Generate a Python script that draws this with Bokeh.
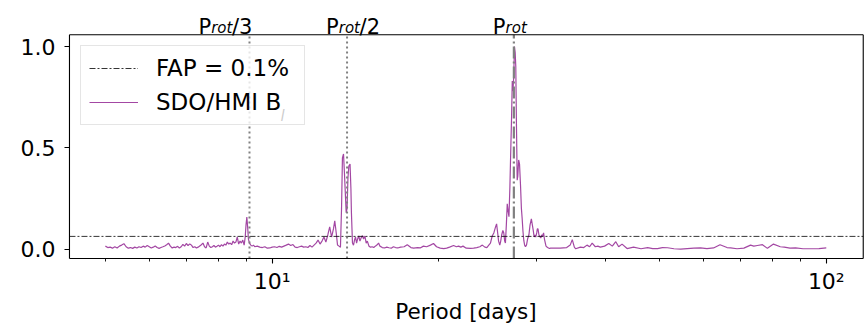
from bokeh.plotting import figure
from bokeh.models import (Range1d, FixedTicker, PrintfTickFormatter, Label,
                          Legend, LegendItem)
from bokeh.embed import file_html
from bokeh.resources import INLINE

# ---------------- data ----------------
period_a = [5.00, 5.05, 5.10, 5.15, 5.20, 5.25, 5.30, 5.35, 5.40, 5.45,
            5.50, 5.55, 5.60, 5.65, 5.70, 5.75, 5.80, 5.85, 5.90, 5.95,
            6.00, 6.05, 6.10, 6.15, 6.20, 6.25, 6.30, 6.35, 6.40, 6.45,
            6.50, 6.55, 6.60, 6.65, 6.70, 6.75, 6.80, 6.85, 6.90, 6.95,
            7.00, 7.05, 7.10, 7.15, 7.20, 7.25, 7.30, 7.35, 7.40, 7.45,
            7.50, 7.55, 7.60, 7.65, 7.70, 7.75, 7.80, 7.85, 7.90, 7.95,
            8.00, 8.05, 8.10, 8.15, 8.20, 8.25, 8.30, 8.35, 8.40, 8.45,
            8.50, 8.55, 8.60, 8.65, 8.70, 8.75, 8.80, 8.85, 8.90, 8.94,
            8.97, 9.00, 9.03, 9.06]
power_a = [0.015, 0.008, 0.010, 0.005, 0.012, 0.006, 0.015, 0.020, 0.027, 0.012,
           0.005, 0.008, 0.004, 0.010, 0.006, 0.012, 0.008, 0.015, 0.010, 0.018,
           0.012, 0.006, 0.010, 0.016, 0.008, 0.004, 0.008, 0.012, 0.016, 0.022,
           0.030, 0.015, 0.006, 0.010, 0.008, 0.014, 0.006, 0.012, 0.024, 0.015,
           0.028, 0.018, 0.026, 0.020, 0.008, 0.012, 0.006, 0.010, 0.016, 0.022,
           0.030, 0.012, 0.006, 0.035, 0.015, 0.008, 0.012, 0.018, 0.010, 0.014,
           0.020, 0.012, 0.022, 0.015, 0.025, 0.020, 0.035, 0.025, 0.030, 0.022,
           0.040, 0.030, 0.035, 0.060, 0.025, 0.040, 0.030, 0.045, 0.020, 0.060,
           0.120, 0.158, 0.110, 0.050]

period_b = [9.10, 9.15, 9.20, 9.25, 9.30, 9.40, 9.50, 9.60, 9.70, 9.80,
            9.90, 10.0, 10.1, 10.2, 10.3, 10.4, 10.5, 10.6, 10.7, 10.8,
            10.9, 11.0, 11.1, 11.2, 11.3, 11.4, 11.5, 11.6, 11.7, 11.8,
            11.9, 12.0, 12.1, 12.2, 12.3, 12.4, 12.5, 12.6, 12.7, 12.8,
            12.9, 12.97, 13.05, 13.12, 13.2, 13.28, 13.34, 13.39, 13.45, 13.5,
            13.54, 13.6, 13.65, 13.7, 13.75, 13.82, 13.87, 13.9, 13.96, 14.02,
            14.08, 14.14, 14.2, 14.26, 14.33, 14.4, 14.47, 14.55, 14.62, 14.7,
            14.78, 14.85, 14.95, 15.05, 15.15, 15.25, 15.35, 15.45, 15.56, 15.65,
            15.8, 15.95, 16.1, 16.25, 16.4, 16.55, 16.7, 16.85]
power_b = [0.030, 0.020, 0.015, 0.020, 0.012, 0.015, 0.010, 0.008, 0.012, 0.005,
           0.006, 0.010, 0.012, 0.008, 0.014, 0.010, 0.015, 0.020, 0.025, 0.018,
           0.023, 0.010, 0.008, 0.012, 0.015, 0.010, 0.012, 0.008, 0.018, 0.010,
           0.020, 0.030, 0.045, 0.025, 0.040, 0.060, 0.035, 0.070, 0.110, 0.060,
           0.100, 0.140, 0.080, 0.020, 0.015, 0.010, 0.200, 0.450, 0.470, 0.380,
           0.300, 0.180, 0.200, 0.350, 0.410, 0.420, 0.300, 0.180, 0.030, 0.020,
           0.045, 0.060, 0.030, 0.050, 0.065, 0.040, 0.055, 0.067, 0.050, 0.065,
           0.030, 0.040, 0.015, 0.010, 0.012, 0.008, 0.015, 0.020, 0.030, 0.015,
           0.008, 0.006, 0.010, 0.007, 0.005, 0.012, 0.008, 0.006]

period_c = [17.05, 17.3, 17.53, 17.8, 18.0, 18.3, 18.5, 18.75, 19.0, 19.3,
            19.55, 19.8, 20.1, 20.4, 20.65, 20.9, 21.25, 21.5, 21.7, 21.9,
            22.1, 22.4, 22.8, 23.1, 23.4, 23.7, 23.95, 24.2, 24.4, 24.6,
            24.77, 24.95]
power_c = [0.010, 0.012, 0.022, 0.008, 0.005, 0.008, 0.006, 0.015, 0.012, 0.020,
           0.028, 0.012, 0.005, 0.003, 0.005, 0.010, 0.018, 0.012, 0.015, 0.010,
           0.015, 0.005, 0.004, 0.005, 0.008, 0.012, 0.020, 0.010, 0.008, 0.020,
           0.030, 0.065]

period_d = [25.12, 25.3, 25.41, 25.55, 25.62, 25.75, 25.85, 25.95, 26.08, 26.18,
            26.28, 26.36, 26.46, 26.56, 26.65, 26.75, 26.85, 26.93, 27.04, 27.12,
            27.2, 27.28, 27.37, 27.45, 27.52, 27.6, 27.68, 27.75, 27.85, 27.95,
            28.07, 28.17, 28.26, 28.35, 28.45, 28.55, 28.65, 28.77, 28.9, 29.06,
            29.2, 29.36, 29.48, 29.6, 29.7, 29.77, 29.9, 30.02, 30.1, 30.18,
            30.3, 30.44, 30.53, 30.65, 30.76, 30.89, 31.0, 31.2, 31.4, 31.66]
power_d = [0.080, 0.110, 0.125, 0.070, 0.040, 0.020, 0.040, 0.070, 0.092, 0.080,
           0.040, 0.030, 0.120, 0.224, 0.190, 0.160, 0.300, 0.450, 0.650, 0.830,
           0.780, 0.850, 1.000, 0.970, 0.900, 0.600, 0.340, 0.360, 0.440, 0.420,
           0.310, 0.200, 0.150, 0.090, 0.043, 0.020, 0.012, 0.020, 0.050, 0.070,
           0.120, 0.150, 0.120, 0.090, 0.060, 0.070, 0.060, 0.080, 0.100, 0.100,
           0.070, 0.060, 0.055, 0.070, 0.065, 0.080, 0.050, 0.015, 0.008, 0.003]

period_e = [31.8, 33.1, 34.0, 34.5, 34.8, 35.1, 35.3, 36.0, 36.5, 37.0,
            37.4, 37.8, 38.3, 38.7, 39.1, 39.8, 40.5, 41.1, 41.7, 42.2,
            42.8, 43.7, 44.9, 46.3, 47.6, 48.6, 49.6, 50.6, 51.7, 53.1,
            54.6, 56.1, 57.7, 59.3, 60.9, 62.6, 64.3, 66.2, 67.2, 69.0,
            71.0, 73.0, 74.0, 75.1, 76.7, 78.3, 80.3, 82.6, 84.0, 86.0,
            88.0, 90.8, 94.9, 97.0, 100.0]
power_e = [0.005, 0.005, 0.008, 0.020, 0.047, 0.010, 0.002, 0.010, 0.008, 0.020,
           0.012, 0.030, 0.012, 0.015, 0.010, 0.015, 0.028, 0.015, 0.037, 0.012,
           0.025, 0.003, 0.010, 0.002, 0.008, 0.003, 0.003, 0.008, 0.007, 0.002,
           0.000, 0.003, 0.005, 0.006, 0.003, 0.006, 0.022, 0.008, 0.006, 0.002,
           0.005, 0.020, 0.015, 0.018, 0.022, 0.004, 0.025, 0.012, 0.010, 0.005,
           0.006, 0.002, 0.002, 0.003, 0.006]

period = period_a + period_b + period_c + period_d + period_e
power = power_a + power_b + power_c + power_d + power_e

p_rot = 27.3            # rotation period [days]
fap_level = 0.063       # FAP = 0.1 % level
x_major = [10, 100]
x_minor = [5, 6, 7, 8, 9, 20, 30, 40, 50, 60, 70, 80, 90]
x_tick_labels = {10: "10¹", 100: "10²"}
y_major = [0.0, 0.5, 1.0]

FONT = "DejaVu Sans"

# axes box (matplotlib-like spines) limits
X_LO, X_HI = 4.307, 116.6
Y_LO, Y_HI = -0.046, 1.058

# The frame is enlarged a little so that the box, the top labels and the
# spines all sit inside it (nothing gets clipped).
p = figure(width=865, height=326, x_axis_type="log",
           x_range=Range1d(4.254, 117.7), y_range=Range1d(-0.0559, 1.227),
           output_backend="svg", toolbar_location=None,
           min_border_left=66, min_border_right=0, min_border_top=0,
           min_border_bottom=66)
p.background_fill_color = "white"
p.border_fill_color = "white"
p.grid.visible = False
p.outline_line_color = None

for ax in (p.xaxis[0], p.yaxis[0]):
    ax.axis_line_color = None
    ax.major_tick_line_color = "black"
    ax.minor_tick_line_color = "black"
    ax.major_tick_line_width = 1.1
    ax.minor_tick_line_width = 0.9
    ax.major_label_text_font = FONT
    ax.major_label_text_font_size = "22px"
    ax.major_label_text_color = "black"
    ax.axis_label_text_font = FONT
    ax.axis_label_text_font_style = "normal"
    ax.axis_label_text_color = "black"

p.xaxis.ticker = FixedTicker(ticks=x_major, minor_ticks=x_minor)
p.xaxis.major_label_overrides = x_tick_labels
p.xaxis.axis_label = "Period [days]"
p.xaxis.axis_label_text_font_size = "21.5px"
p.xaxis.major_tick_in = 2
p.xaxis.major_tick_out = 3
p.xaxis.minor_tick_in = 2
p.xaxis.minor_tick_out = 1
p.xaxis.major_label_standoff = 5
p.xaxis.axis_label_standoff = 2

p.yaxis.ticker = FixedTicker(ticks=y_major, minor_ticks=[])
p.yaxis.formatter = PrintfTickFormatter(format="%.1f")
p.yaxis.major_tick_in = 3
p.yaxis.major_tick_out = 2
p.yaxis.major_label_standoff = 9

FAP_DASH = "6 2 2 2"

# periodogram
r_data = p.line(period, power, line_color="purple", line_alpha=0.72, line_width=1.2)

# FAP level
r_fap = p.segment(x0=[X_LO], y0=[fap_level], x1=[X_HI], y1=[fap_level],
                  line_color="black", line_width=0.8, line_dash=FAP_DASH)

# P_rot/3, P_rot/2 (dotted) and P_rot (dash-dot)
p.segment(x0=[p_rot / 3, p_rot / 2], y0=[Y_LO, Y_LO],
          x1=[p_rot / 3, p_rot / 2], y1=[Y_HI, Y_HI],
          line_color="gray", line_width=2, line_dash="2 3")
p.segment(x0=[p_rot], y0=[Y_LO], x1=[p_rot], y1=[Y_HI],
          line_color="gray", line_width=2.2, line_dash="12 3 2 3")

# axes box
p.segment(x0=[X_LO, X_HI, X_LO, X_LO], y0=[Y_LO, Y_LO, Y_HI, Y_LO],
          x1=[X_LO, X_HI, X_HI, X_HI], y1=[Y_HI, Y_HI, Y_HI, Y_LO],
          line_color="black", line_width=1.1)


# top labels P_rot/3, P_rot/2, P_rot
def top_label(xpos, suffix, dx):
    p.add_layout(Label(x=xpos, y=Y_HI, text="P", x_offset=dx, y_offset=8,
                       text_baseline="alphabetic", text_align="left",
                       text_font=FONT, text_font_size="21px", text_color="black"))
    p.add_layout(Label(x=xpos, y=Y_HI, text="rot", x_offset=dx + 12.7, y_offset=6.5,
                       text_baseline="alphabetic", text_align="left",
                       text_font=FONT, text_font_style="italic",
                       text_font_size="15px", text_color="black"))
    if suffix:
        p.add_layout(Label(x=xpos, y=Y_HI, text=suffix, x_offset=dx + 33.5, y_offset=8,
                           text_baseline="alphabetic", text_align="left",
                           text_font=FONT, text_font_size="21px", text_color="black"))


top_label(p_rot / 3, "/3", -51)
top_label(p_rot / 2, "/2", -21)
top_label(p_rot, "", -21)

# legend
legend = Legend(items=[LegendItem(label="FAP = 0.1%", renderers=[r_fap]),
                       LegendItem(label="SDO/HMI B", renderers=[r_data])],
                location=(14, 135))
legend.label_text_font = FONT
legend.label_text_font_size = "23px"
legend.label_text_color = "black"
legend.glyph_width = 49
legend.glyph_height = 28
legend.label_height = 28
legend.label_width = 140
legend.label_standoff = 18
legend.spacing = 6
legend.padding = 8
legend.margin = 0
legend.border_line_color = "#cccccc"
legend.border_line_width = 1
legend.background_fill_color = "white"
legend.background_fill_alpha = 0.8
p.add_layout(legend)

# italic subscript "l" of B_l in the legend
p.add_layout(Label(x=214, y=145, x_units="screen", y_units="screen", text="l",
                   text_baseline="alphabetic", text_align="left", text_font=FONT,
                   text_font_style="italic", text_font_size="15px", text_color="black"))

open("out.html", "w").write(file_html(p, INLINE))
